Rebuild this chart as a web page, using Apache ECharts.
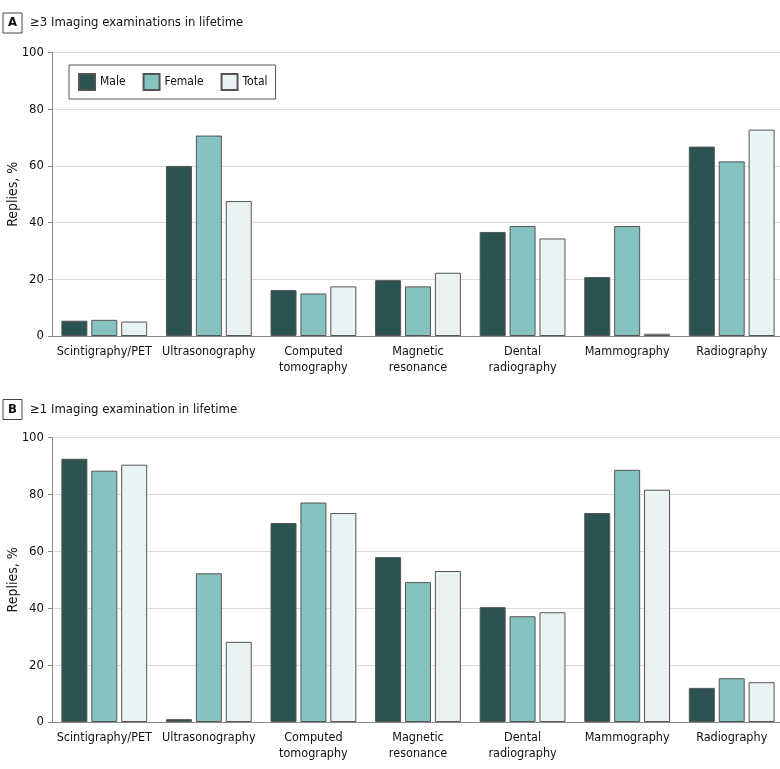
<!DOCTYPE html>
<html><head><meta charset="utf-8">
<script src="https://cdn.jsdelivr.net/npm/echarts@6/dist/echarts.min.js"></script>
<style>html,body{margin:0;padding:0;background:#fff}#c{width:780px;height:769px}</style>
</head><body><div id="c"></div>
<script>
const categories = ['Scintigraphy/PET','Ultrasonography','Computed\ntomography','Magnetic\nresonance','Dental\nradiography','Mammography','Radiography'];
const seriesNames = ['Male','Female','Total'];
const yTicks = [0,20,40,60,80,100];
const panelTitles = ['≥3 Imaging examinations in lifetime','≥1 Imaging examination in lifetime'];
const panelLetters = ['A','B'];
const aMale   = [5.4, 60.0, 16.2, 19.7, 36.7, 20.8, 66.8];
const aFemale = [5.7, 70.7, 15.0, 17.5, 38.8, 38.8, 61.6];
const aTotal  = [5.1, 47.6, 17.5, 22.3, 34.4, 0.8, 72.8];
const bMale   = [92.6, 1.0, 70.0, 58.0, 40.4, 73.5, 12.0];
const bFemale = [88.4, 52.3, 77.2, 49.2, 37.2, 88.7, 15.4];
const bTotal  = [90.5, 28.2, 73.5, 53.1, 38.6, 81.7, 14.0];

const FONT = "'Liberation Sans Narrow','DejaVu Sans Condensed',sans-serif";
const colors = ['#2b5352','#86c2c0','#e9f3f4'];
const chart = echarts.init(document.getElementById('c'));

function xAx(gi){return {type:'category',gridIndex:gi,data:categories,
  axisLine:{lineStyle:{color:'#8a8a8a',width:1}},axisTick:{show:false},
  axisLabel:{color:'#111',fontFamily:FONT,fontSize:12.5,lineHeight:16,margin:8,interval:0}};}
function yAx(gi){return {type:'value',gridIndex:gi,min:yTicks[0],max:yTicks[yTicks.length-1],interval:20,
  name:'Replies, %',nameLocation:'middle',nameGap:32,nameRotate:90,nameMoveOverlap:false,
  nameTextStyle:{color:'#111',fontFamily:FONT,fontSize:14},
  axisLine:{show:true,lineStyle:{color:'#8a8a8a'}},axisTick:{show:true,length:4,lineStyle:{color:'#8a8a8a'}},
  splitLine:{lineStyle:{color:'#dcdcdc'}},
  axisLabel:{color:'#111',fontFamily:FONT,fontSize:13,margin:8}};}
function ser(name,data,gi,ci){return {type:'bar',name:name,data:data,xAxisIndex:gi,yAxisIndex:gi,
  barWidth:26,barGap:'15%',itemStyle:{color:colors[ci],borderColor:'#555',borderWidth:1},
  emphasis:{disabled:true},animation:false};}

function panelLabel(i,cy){return [
  {type:'rect',shape:{x:3,y:cy-10,width:19,height:20},style:{fill:'#fff',stroke:'#444',lineWidth:1}},
  {type:'text',x:12.5,y:cy,style:{text:panelLetters[i],font:'bold 13px '+FONT,fill:'#111',textAlign:'center',textVerticalAlign:'middle'}},
  {type:'text',x:30,y:cy,style:{text:panelTitles[i],font:'13px '+FONT,fill:'#111',textAlign:'left',textVerticalAlign:'middle'}}
];}

chart.setOption({
  animation:false,
  textStyle:{fontFamily:FONT},
  grid:[{left:52,width:732,top:52.5,height:283.5,containLabel:false,outerBoundsMode:'none'},
        {left:52,width:732,top:437.7,height:284.3,containLabel:false,outerBoundsMode:'none'}],
  xAxis:[xAx(0),xAx(1)],
  yAxis:[yAx(0),yAx(1)],
  legend:{data:seriesNames,left:69,top:65,orient:'horizontal',icon:'rect',itemWidth:16,itemHeight:16,itemGap:17,
    padding:[8,8,8,9],borderColor:'#555',borderWidth:1,backgroundColor:'#fff',
    textStyle:{color:'#111',fontFamily:FONT,fontSize:12},selectedMode:false},
  graphic:[...panelLabel(0,23),...panelLabel(1,409.5)],
  series:[ser('Male',aMale,0,0),ser('Female',aFemale,0,1),ser('Total',aTotal,0,2),
          ser('Male',bMale,1,0),ser('Female',bFemale,1,1),ser('Total',bTotal,1,2)]
});
</script></body></html>
